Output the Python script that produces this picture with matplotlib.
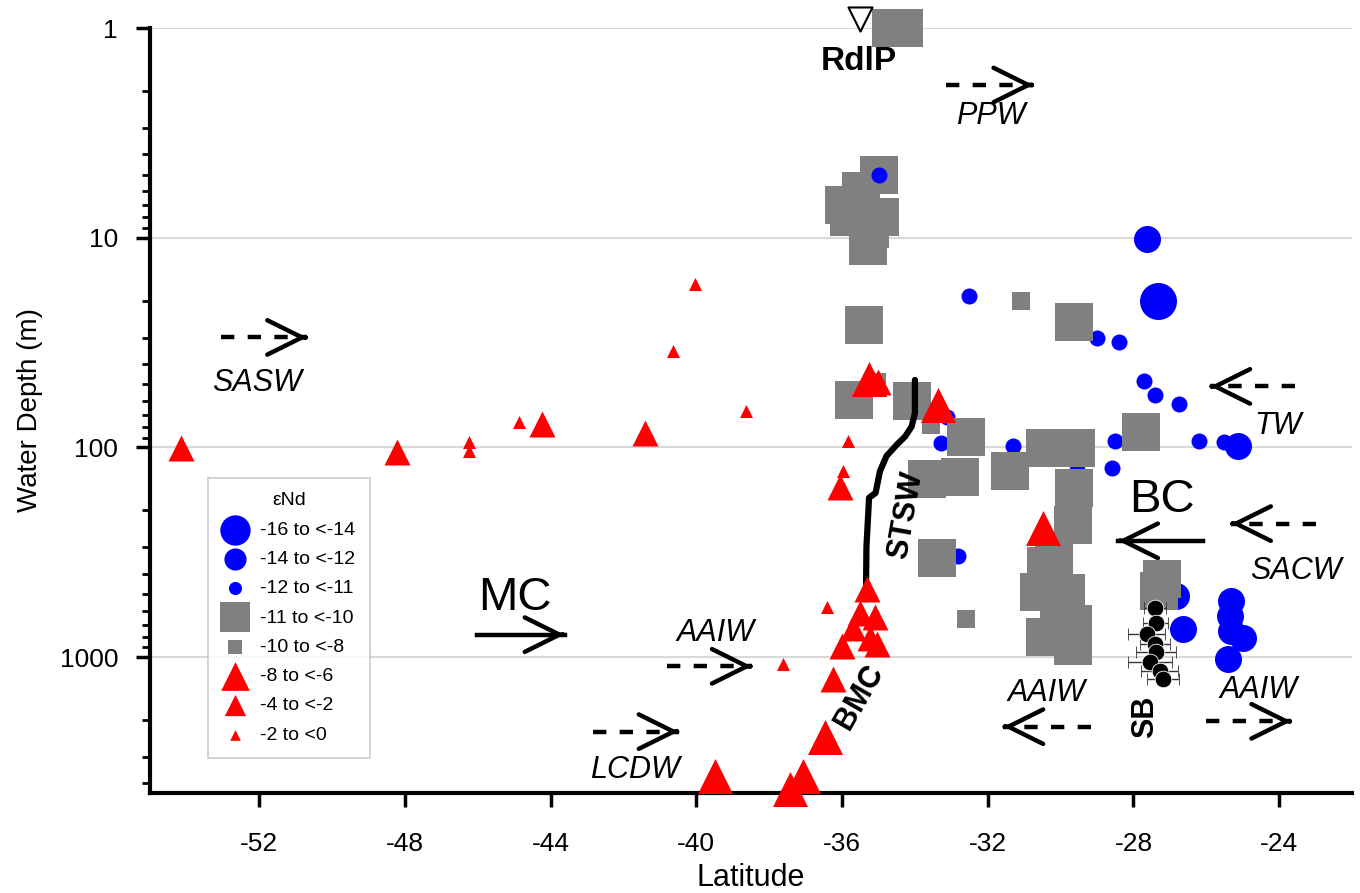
import numpy as np
import matplotlib.pyplot as plt
from matplotlib.ticker import FixedLocator, FixedFormatter, LogLocator, NullFormatter

plt.rcParams['font.family'] = ['Liberation Sans', 'DejaVu Sans']
plt.rcParams['axes.unicode_minus'] = False

# ---------------------------------------------------------
# Data (latitude, water depth in m), grouped by eNd class
# ---------------------------------------------------------
# -16 to <-14 (large blue circles)
c16_lat = [-27.32, -30.11]
c16_dep = [20, 484]
# -14 to <-12 (medium blue circles)
c14_lat = [-27.62, -25.13, -29.93, -27.23, -26.82, -26.64, -25.31, -25.36, -25.31, -24.99, -25.40]
c14_dep = [10.1, 98, 99, 396, 512, 737, 541, 637, 750, 807, 1023]
# -12 to <-11 (small blue circles)
c12_lat = [-32.51, -28.99, -28.40, -27.71, -27.41, -26.76, -28.51, -28.60, -26.20, -25.51,
           -33.13, -33.28, -31.30, -32.81, -29.56, -35.19]
c12_dep = [19, 30.2, 31.4, 48, 56.2, 62, 93, 125.5, 93, 94.4,
           71.3, 95.4, 99, 328, 128, 5.74]
c12_top_lat = [-34.98]
c12_top_dep = [5.0]

# -11 to <-10 (large grey squares)
s11_lat = [-34.67, -34.29, -34.98, -35.48, -35.94, -35.80, -34.95, -35.23, -35.29, -35.39,
           -35.66, -34.08, -32.59, -32.77, -33.68, -31.40, -30.42, -29.58, -29.63, -29.66,
           -33.39, -29.63, -27.80, -27.23, -27.30, -30.19, -30.39, -30.60, -29.85, -30.44,
           -29.65, -29.65, -30.04]
s11_dep = [1.0, 1.0, 5.0, 6.0, 7.0, 8.0, 8.0, 9.1, 11.0, 26,
           59.2, 60.3, 89.3, 138, 141, 130, 100.5, 100.5, 157, 235,
           337, 25.2, 84.3, 426, 486, 347, 367, 491, 493, 798,
           698, 885, 721]
# -10 to <-8 (small grey squares)
s8_lat = [-35.05, -33.55, -31.09, -32.61]
s8_dep = [49, 78, 20, 656]

# -8 to <-6 (large red triangles)
t6_lat = [-35.26, -33.36, -30.48, -36.47, -39.48, -37.06, -37.43]
t6_dep = [47.2, 62.7, 242, 2411, 3672, 3672, 4250]
# -4 to <-2 (medium red triangles)
t2_lat = [-54.16, -48.23, -44.25, -41.40, -35.00, -36.05, -35.32, -35.51, -35.09, -35.69,
          -35.23, -36.01, -35.05, -36.24]
t2_dep = [100.7, 105, 77, 85, 48.8, 154, 475, 614, 646, 723,
          807, 885, 868, 1274]
# -2 to <0 (small red triangles)
t0_lat = [-46.25, -46.25, -44.86, -40.03, -40.63, -38.64, -35.85, -35.98, -36.40, -37.61]
t0_dep = [94, 104, 76, 16.7, 34.6, 67, 93.7, 130, 577, 1081]

# SB profile with latitude error bars
sb_lat = [-27.40, -27.39, -27.64, -27.41, -27.39, -27.55, -27.28, -27.19]
sb_dep = [581, 685, 778, 868, 951, 1061, 1164, 1274]
sb_err = [0.30, 0.35, 0.50, 0.40, 0.55, 0.60, 0.50, 0.45]

# STSW / BMC front
front_lat = [-34.00, -34.00, -34.09, -34.27, -34.50, -34.78, -34.96, -35.08, -35.26, -35.28,
             -35.33, -35.34, -35.34]
front_dep = [47.7, 68.7, 79.6, 88.8, 97.2, 110, 130, 165, 174, 205,
             296, 426, 530]

# Rio de la Plata station
rdlp_lat = [-35.51]
rdlp_dep = [0.91]

x_ticks = [-52, -48, -44, -40, -36, -32, -28, -24]
y_ticks = [1, 10, 100, 1000]
y_tick_labels = ['1', '10', '100', '1000']

# ---------------------------------------------------------
# Plotting
# ---------------------------------------------------------
fig = plt.figure(figsize=(13.6, 8.93), dpi=100)
ax = fig.add_axes([150 / 1360, 1 - 793 / 893, 1202 / 1360, (793 - 28) / 893])

ax.set_yscale('log')
ax.set_xlim(-55, -22)
ax.set_ylim(4450, 1)

blue, grey, red = '#0000ff', '#808080', '#ff0000'
big_c, mid_c, small_c = 710, 378, 133
big_s, small_s = 710, 150
big_t, mid_t, small_t = 635, 350, 88

h1 = ax.scatter(c16_lat, c16_dep, s=big_c, c=blue, marker='o', lw=0, zorder=3, clip_on=False, label='-16 to <-14')
h2 = ax.scatter(c14_lat, c14_dep, s=mid_c, c=blue, marker='o', lw=0, zorder=3, clip_on=False, label='-14 to <-12')
h3 = ax.scatter(c12_lat, c12_dep, s=small_c, c=blue, marker='o', lw=0, zorder=3, clip_on=False, label='-12 to <-11')
h4 = ax.scatter(s11_lat, s11_dep, s=big_s, c=grey, marker='s', lw=0, zorder=4, clip_on=False, label='-11 to <-10')
h5 = ax.scatter(s8_lat, s8_dep, s=small_s, c=grey, marker='s', lw=0, zorder=4, clip_on=False, label='-10 to <-8')
ax.scatter(c12_top_lat, c12_top_dep, s=small_c, c=blue, marker='o', lw=0, zorder=4.5, clip_on=False)

ax.plot(front_lat, front_dep, color='black', lw=4.5, solid_capstyle='round', zorder=5)

h6 = ax.scatter(t6_lat, t6_dep, s=big_t, c=red, marker='^', lw=0, zorder=6, clip_on=False, label='-8 to <-6')
h7 = ax.scatter(t2_lat, t2_dep, s=mid_t, c=red, marker='^', lw=0, zorder=6, clip_on=False, label='-4 to <-2')
h8 = ax.scatter(t0_lat, t0_dep, s=small_t, c=red, marker='^', lw=0, zorder=6, clip_on=False, label='-2 to <0')

ax.errorbar(sb_lat, sb_dep, xerr=sb_err, fmt='o', color='black', ms=12, mec='white', mew=0.6,
            ecolor='#333333', elinewidth=1, capsize=4, capthick=1, zorder=8)

ax.scatter(rdlp_lat, rdlp_dep, s=300, marker='v', facecolors='white', edgecolors='black',
           linewidths=1.5, zorder=8, clip_on=False)


# flow arrows: dashed shaft + open chevron head
def flow_arrow(x0, x1, y, dashed=True):
    ls = (0, (3, 3)) if dashed else '-'
    ax.plot([x0, x1], [y, y], color='black', lw=3.2, ls=ls, zorder=9, clip_on=False)
    d = 0.05 if x1 > x0 else -0.05
    ax.annotate('', xy=(x1, y), xytext=(x1 - d, y),
                arrowprops=dict(arrowstyle='->,head_length=1.25,head_width=0.62', lw=3.2,
                                color='black', mutation_scale=20, shrinkA=0, shrinkB=0),
                zorder=9, annotation_clip=False)


flow_arrow(-33.14, -30.75, 1.87)      # PPW
flow_arrow(-53.06, -50.69, 29.9)      # SASW
flow_arrow(-23.56, -25.89, 51.2)      # TW
flow_arrow(-22.99, -25.32, 231)       # SACW
flow_arrow(-26.00, -23.67, 2025)      # AAIW right
flow_arrow(-29.16, -31.57, 2148)      # AAIW middle
flow_arrow(-40.81, -38.48, 1107)      # AAIW left
flow_arrow(-42.85, -40.49, 2268)      # LCDW
flow_arrow(-46.03, -43.62, 782, dashed=False)   # MC
flow_arrow(-26.09, -28.42, 279, dashed=False)   # BC

it = dict(fontsize=22, style='italic', ha='center', va='center', zorder=9)
ax.text(-31.92, 2.63, 'PPW', **it)
ax.text(-52.06, 49.4, 'SASW', **it)
ax.text(-24.03, 79.5, 'TW', **it)
ax.text(-23.53, 390, 'SACW', **it)
ax.text(-24.58, 1430, 'AAIW', **it)
ax.text(-30.40, 1479, 'AAIW', **it)
ax.text(-39.48, 768, 'AAIW', **it)
ax.text(-41.70, 3443, 'LCDW', **it)

ax.text(-44.99, 521, 'MC', fontsize=34, ha='center', va='center', zorder=9)
ax.text(-27.23, 178, 'BC', fontsize=34, ha='center', va='center', zorder=9)

bd = dict(fontsize=22, fontweight='bold', ha='center', va='center', zorder=9)
ax.text(-35.53, 1.45, 'RdlP', fontsize=24, fontweight='bold', ha='center', va='center', zorder=9)
ax.text(-34.24, 210, 'STSW', rotation=80, **bd)
ax.text(-35.53, 1545, 'BMC', rotation=60, **bd)
ax.text(-27.67, 1918, 'SB', rotation=90, **bd)

# Axes formatting
for side in ['top', 'right']:
    ax.spines[side].set_visible(False)
for side in ['left', 'bottom']:
    ax.spines[side].set_linewidth(3)

ax.xaxis.set_major_locator(FixedLocator(x_ticks))
ax.yaxis.set_major_locator(FixedLocator(y_ticks))
ax.yaxis.set_major_formatter(FixedFormatter(y_tick_labels))
ax.yaxis.set_minor_locator(LogLocator(base=10, subs=np.arange(2, 10)))
ax.yaxis.set_minor_formatter(NullFormatter())
ax.tick_params(axis='both', which='major', direction='out', length=10, width=2.5, labelsize=19)
ax.tick_params(axis='x', which='major', pad=18)
ax.tick_params(axis='y', which='major', pad=13)
ax.tick_params(axis='y', which='minor', direction='out', length=6, width=2)
ax.yaxis.grid(True, which='major', color='#d9d9d9', lw=1.5)
ax.set_axisbelow(True)

ax.set_xlabel('Latitude', fontsize=22, labelpad=5)
ax.set_ylabel('Water Depth (m)', fontsize=20, labelpad=12)

leg = ax.legend(handles=[h1, h2, h3, h4, h5, h6, h7, h8], title='\u03b5Nd', loc='upper left',
                bbox_to_anchor=(0.048, 0.412), frameon=True, fancybox=False, edgecolor='#bfbfbf',
                fontsize=14, title_fontsize=14, markerscale=0.82, scatterpoints=1,
                borderpad=0.75, labelspacing=0.6, handlelength=1.3, handletextpad=0.65,
                borderaxespad=0)
leg.get_frame().set_linewidth(1.2)
leg.set_zorder(10)

fig.savefig('out.png', dpi=100)
